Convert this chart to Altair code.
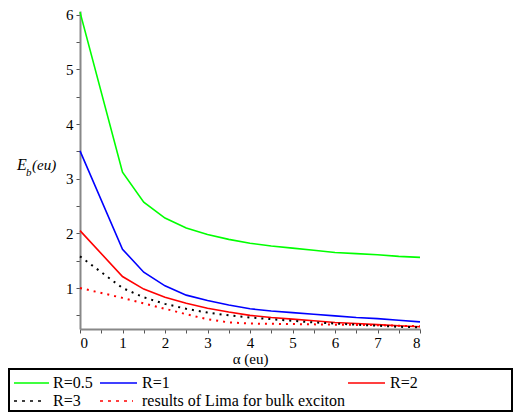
import altair as alt
import pandas as pd

alpha = [0, 1, 1.5, 2, 2.5, 3, 3.5, 4, 4.5, 5, 5.5, 6, 6.5, 7, 7.5, 8]
r05 = [6.05, 3.12, 2.57, 2.28, 2.10, 1.98, 1.89, 1.82, 1.77, 1.73, 1.69, 1.65, 1.63, 1.61, 1.58, 1.56]
r1 = [3.51, 1.71, 1.29, 1.04, 0.87, 0.77, 0.69, 0.62, 0.58, 0.55, 0.52, 0.49, 0.46, 0.44, 0.41, 0.38]
r2 = [2.05, 1.21, 0.98, 0.83, 0.72, 0.63, 0.56, 0.50, 0.46, 0.43, 0.40, 0.37, 0.35, 0.33, 0.31, 0.29]
r3 = [1.58, 1.00, 0.83, 0.71, 0.62, 0.55, 0.50, 0.46, 0.43, 0.40, 0.37, 0.35, 0.33, 0.31, 0.29, 0.28]
lima = [1.00, 0.82, 0.72, 0.62, 0.52, 0.43, 0.37, 0.35, 0.345, 0.34, 0.335, 0.33, 0.325, 0.32, 0.31, 0.30]

series_names = ["R=0.5", "R=1", "R=2", "R=3", "results of Lima for bulk exciton"]
series_vals = [r05, r1, r2, r3, lima]
series_colors = ["#00ff00", "#0000ff", "#ff0000", "#000000", "#ff0000"]

rows = []
for name, vals in zip(series_names, series_vals):
    for a, v in zip(alpha, vals):
        rows.append({"alpha": a, "E": v, "series": name})
df = pd.DataFrame(rows)

W, H = 340, 318
FONT = "'Liberation Serif', 'DejaVu Serif', serif"
LBL = "datum.value % 1 == 0 ? format(datum.value, 'd') : ''"

xs = alt.X("alpha:Q", scale=alt.Scale(domain=[0, 8], nice=False),
           axis=alt.Axis(title="α (eu)", values=[i * 0.5 for i in range(17)],
                         labelExpr=LBL,
                         grid=False, domainColor="#888888", domainWidth=2,
                         tickColor="#555555", tickSize=4, labelPadding=2,
                         labelFont=FONT, labelFontSize=15, labelColor="#000000",
                         titleFont=FONT, titleFontSize=15, titleFontWeight="normal",
                         titleColor="#000000", titlePadding=1))
ys = alt.Y("E:Q", scale=alt.Scale(domain=[0.25, 6.07], nice=False, zero=False),
           axis=alt.Axis(title=None, values=[i * 0.5 for i in range(1, 13)],
                         labelExpr=LBL,
                         grid=False, domainColor="#888888", domainWidth=2,
                         tickColor="#555555", tickSize=4, labelPadding=3,
                         labelFont=FONT, labelFontSize=15, labelColor="#000000"))
color = alt.Color("series:N", scale=alt.Scale(domain=series_names, range=series_colors), legend=None)

solid = alt.Chart(df).transform_filter(
    alt.FieldOneOfPredicate(field="series", oneOf=["R=0.5", "R=1", "R=2"])
).mark_line(strokeWidth=1.6).encode(x=xs, y=ys, color=color, detail="series:N")

dotted = alt.Chart(df).transform_filter(
    alt.FieldOneOfPredicate(field="series", oneOf=["R=3", "results of Lima for bulk exciton"])
).mark_line(strokeWidth=2, strokeDash=[2, 5]).encode(x=xs, y=ys, color=color, detail="series:N")

# y title E_b(eu)
ytitle = [
    alt.Chart(pd.DataFrame({"t": ["E"]})).mark_text(font=FONT, fontSize=16, fontStyle="italic", align="left", baseline="middle")
    .encode(text="t:N", x=alt.value(-63), y=alt.value(154)),
    alt.Chart(pd.DataFrame({"t": ["b"]})).mark_text(font=FONT, fontSize=11, fontStyle="italic", align="left", baseline="middle")
    .encode(text="t:N", x=alt.value(-54), y=alt.value(162)),
    alt.Chart(pd.DataFrame({"t": ["(eu)"]})).mark_text(font=FONT, fontSize=15, fontStyle="italic", align="left", baseline="middle")
    .encode(text="t:N", x=alt.value(-48), y=alt.value(154)),
]

# legend box
box = alt.Chart(pd.DataFrame({"a": [0]})).mark_rect(fill=None, stroke="#000000", strokeWidth=2).encode(
    x=alt.value(-71), x2=alt.value(432), y=alt.value(358), y2=alt.value(400))

leg_items = [
    # (x1, x2, y, dash, color, label, textx)
    (-66, -31, 372, None, "#00ff00", "R=0.5", -27),
    (20, 57, 372, None, "#0000ff", "R=1", 62),
    (268, 305, 372, None, "#ff0000", "R=2", 310),
    (-66, -35, 390, [3, 5], "#000000", "R=3", -27),
    (20, 53, 390, [3, 5], "#ff0000", "results of Lima for bulk exciton", 62),
]
leg_layers = []
for x1, x2, yy, dash, col, lab, tx in leg_items:
    kw = dict(color=col, strokeWidth=1.6)
    if dash:
        kw["strokeDash"] = dash
    leg_layers.append(alt.Chart(pd.DataFrame({"a": [0]})).mark_rule(**kw).encode(
        x=alt.value(x1), x2=alt.value(x2), y=alt.value(yy)))
    leg_layers.append(alt.Chart(pd.DataFrame({"t": [lab]})).mark_text(
        font=FONT, fontSize=16, align="left", baseline="middle", color="#000000").encode(
        text="t:N", x=alt.value(tx), y=alt.value(yy)))

chart = alt.layer(solid, dotted, *ytitle, box, *leg_layers).properties(
    width=W, height=H,
    autosize=alt.AutoSizeParams(type="none"),
    padding={"left": 72, "top": 3, "right": 94, "bottom": 84},
).configure_view(stroke=None)

chart.save("out.html", embed_options={"renderer": "svg", "actions": False})
